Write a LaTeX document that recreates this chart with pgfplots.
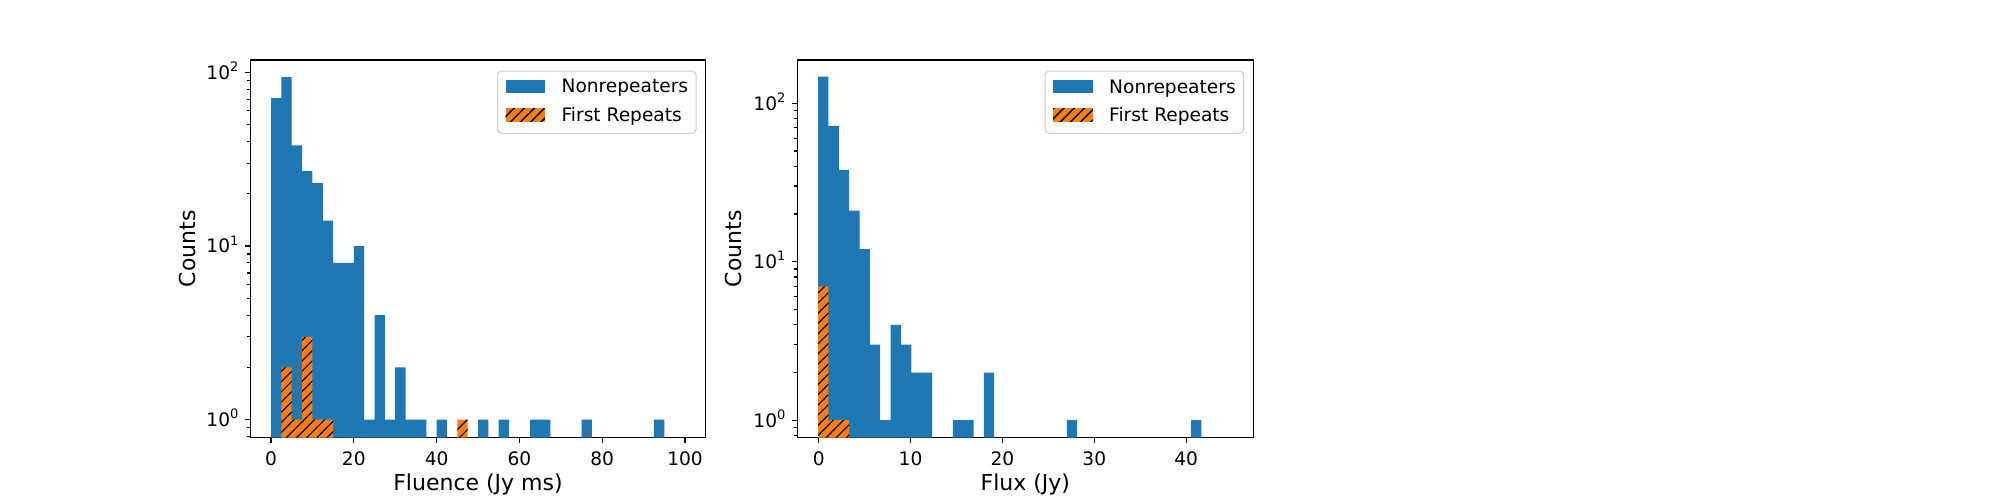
\documentclass[border=0pt]{standalone}
\usepackage{fontspec}
\setmainfont{DejaVu Sans}
\usepackage{pgfplots}
\pgfplotsset{compat=1.18}
\usetikzlibrary{patterns.meta}
\definecolor{mblue}{HTML}{1F77B4}
\definecolor{morange}{HTML}{FF7F0E}
\tikzset{hatchfill/.style={postaction={pattern={Lines[angle=45,distance=3.6pt,line width=0.6pt]}, pattern color=black}}}
\begin{document}
\begin{tikzpicture}
\path[use as bounding box] (0,0) rectangle (1000pt,250pt);
% Left panel: Fluence
\begin{axis}[scale only axis, height=188.85pt, anchor=south west,
  at={(125.15pt,31.15pt)}, width=227.7pt,
  ymode=log, log origin y=infty,
  axis line style={line width=0.6pt},
  tick align=outside, xtick pos=bottom, ytick pos=left,
  major tick length=2.5pt, minor tick length=1.5pt,
  every tick/.append style={line width=0.6pt, black},
  ytick={1,10,100},
  yticklabels={10\textsuperscript{0},10\textsuperscript{1},10\textsuperscript{2}},
  minor ytick={0.8,0.9,2,3,4,5,6,7,8,9,20,30,40,50,60,70,80,90},
  ticklabel style={font=\fontsize{9.3}{11}\selectfont},
  /pgf/number format/assume math mode=true,
  xticklabel style={anchor=north, inner sep=0pt, yshift=-4.3pt},
  yticklabel style={anchor=base east, inner sep=0pt, yshift=-3.4pt, xshift=-2.75pt},
  label style={font=\fontsize{11}{13}\selectfont},
  xlabel style={at={(axis description cs:0.5,-0.1385)}, anchor=base, inner sep=0pt},
  ylabel style={at={(axis description cs:-0.121,0.5)}, anchor=base, inner sep=0pt},
  legend cell align=left,
  legend style={at={(axis description cs:0.980,0.9717)}, anchor=north east,
    draw=black!20, line width=0.5pt, rounded corners=2pt, fill=white,
    font=\fontsize{9.3}{11}\selectfont, inner xsep=4pt, inner ysep=3.9pt,
    row sep=5.25pt, column sep=8.35pt,
    nodes={inner sep=0pt, text height=7pt, text depth=2pt}},
  xmin=-5, xmax=105, ymin=0.7873, ymax=117.8,
  xtick={0,20,40,60,80,100},
  xlabel={Fluence (Jy ms)}, ylabel={Counts}]
\addplot[ybar, bar shift=0pt, bar width=2.5, fill=mblue, draw=none,
  legend image code/.code={\fill[mblue, sharp corners] (0pt,-2.7pt) rectangle (19.7pt,4.1pt);}] coordinates {
(1.25,71) (3.75,94) (6.25,38) (8.75,27) (11.25,23) (13.75,14) (16.25,8) (18.75,8)
(21.25,10) (23.75,1) (26.25,4) (28.75,1) (31.25,2) (33.75,1) (36.25,1) (41.25,1)
(51.25,1) (56.25,1) (63.75,1) (66.25,1) (76.25,1) (93.75,1)};
\addlegendentry{Nonrepeaters}
\addplot[ybar, bar shift=0pt, bar width=2.5, fill=morange, draw=none, hatchfill,
  legend image code/.code={\fill[morange, sharp corners, hatchfill] (0pt,-2.7pt) rectangle (19.7pt,4.1pt);}] coordinates {
(3.75,2) (6.25,1) (8.75,3) (11.25,1) (13.75,1) (46.25,1)};
\addlegendentry{First Repeats}
\end{axis}
% Right panel: Flux
\begin{axis}[scale only axis, height=188.85pt, anchor=south west,
  at={(398.65pt,31.15pt)}, width=228pt,
  ymode=log, log origin y=infty,
  axis line style={line width=0.6pt},
  tick align=outside, xtick pos=bottom, ytick pos=left,
  major tick length=2.5pt, minor tick length=1.5pt,
  every tick/.append style={line width=0.6pt, black},
  ytick={1,10,100},
  yticklabels={10\textsuperscript{0},10\textsuperscript{1},10\textsuperscript{2}},
  minor ytick={0.8,0.9,2,3,4,5,6,7,8,9,20,30,40,50,60,70,80,90},
  ticklabel style={font=\fontsize{9.3}{11}\selectfont},
  /pgf/number format/assume math mode=true,
  xticklabel style={anchor=north, inner sep=0pt, yshift=-4.3pt},
  yticklabel style={anchor=base east, inner sep=0pt, yshift=-3.4pt, xshift=-2.75pt},
  label style={font=\fontsize{11}{13}\selectfont},
  xlabel style={at={(axis description cs:0.5,-0.1385)}, anchor=base, inner sep=0pt},
  ylabel style={at={(axis description cs:-0.122,0.5)}, anchor=base, inner sep=0pt},
  legend cell align=left,
  legend style={at={(axis description cs:0.980,0.9717)}, anchor=north east,
    draw=black!20, line width=0.5pt, rounded corners=2pt, fill=white,
    font=\fontsize{9.3}{11}\selectfont, inner xsep=4pt, inner ysep=3.9pt,
    row sep=5.25pt, column sep=8.35pt,
    nodes={inner sep=0pt, text height=7pt, text depth=2pt}},
  xmin=-2.33, xmax=47.31, ymin=0.776, ymax=187.3,
  xtick={0,10,20,30,40},
  xlabel={Flux (Jy)}, ylabel={Counts}]
\addplot[ybar, bar shift=0pt, bar width=1.128, fill=mblue, draw=none,
  legend image code/.code={\fill[mblue, sharp corners] (0pt,-2.7pt) rectangle (19.7pt,4.1pt);}] coordinates {
(0.494,147) (1.622,72) (2.750,38) (3.878,21) (5.006,12) (6.134,3) (7.262,1)
(8.390,4) (9.518,3) (10.646,2) (11.774,2) (15.158,1) (16.286,1) (18.542,2)
(27.566,1) (41.102,1)};
\addlegendentry{Nonrepeaters}
\addplot[ybar, bar shift=0pt, bar width=1.128, fill=morange, draw=none, hatchfill,
  legend image code/.code={\fill[morange, sharp corners, hatchfill] (0pt,-2.7pt) rectangle (19.7pt,4.1pt);}] coordinates {
(0.494,7) (1.622,1) (2.750,1)};
\addlegendentry{First Repeats}
\end{axis}
\end{tikzpicture}
\end{document}
